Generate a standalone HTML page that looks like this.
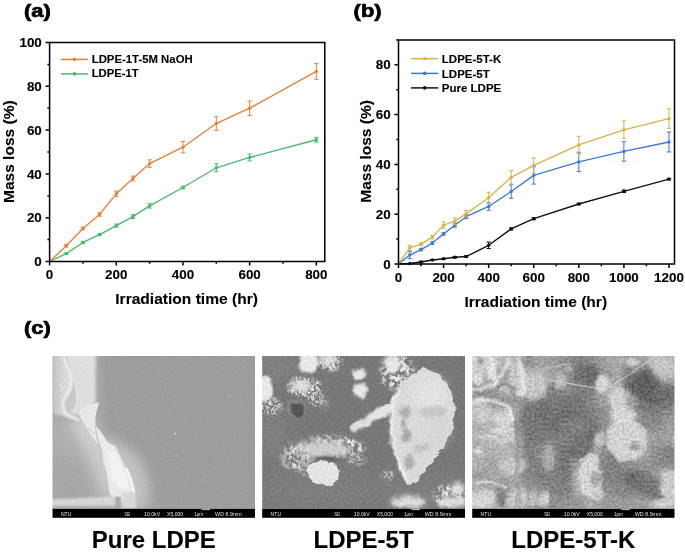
<!DOCTYPE html>
<html><head><meta charset="utf-8"><style>
html,body{margin:0;padding:0;background:#fff;width:685px;height:552px;overflow:hidden}
svg text{font-family:"Liberation Sans", sans-serif;font-weight:bold;fill:#000;stroke:#000;stroke-width:0.12}
</style></head><body>
<svg width="685" height="552" viewBox="0 0 685 552" style="position:absolute;left:0;top:0;filter:blur(0.35px)">
<rect width="685" height="552" fill="#fff"/>
<path d="M49.60,261.50 L66.27,253.62 L82.94,242.45 L99.61,234.56 L116.28,225.58 L132.95,216.61 L149.62,205.87 L182.96,187.48 L216.30,167.77 L249.64,157.48 L316.32,139.74" fill="none" stroke="#4DB871" stroke-width="1.35" stroke-linejoin="round"/>
<path d="M66.27,252.74V254.49M64.07,252.74H68.47M64.07,254.49H68.47" stroke="#4DB871" stroke-width="1" fill="none"/>
<circle cx="66.27" cy="253.62" r="1.7" fill="#4DB871"/>
<path d="M82.94,241.35V243.54M80.74,241.35H85.14M80.74,243.54H85.14" stroke="#4DB871" stroke-width="1" fill="none"/>
<circle cx="82.94" cy="242.45" r="1.7" fill="#4DB871"/>
<path d="M99.61,233.47V235.66M97.41,233.47H101.81M97.41,235.66H101.81" stroke="#4DB871" stroke-width="1" fill="none"/>
<circle cx="99.61" cy="234.56" r="1.7" fill="#4DB871"/>
<path d="M116.28,224.05V227.12M114.08,224.05H118.48M114.08,227.12H118.48" stroke="#4DB871" stroke-width="1" fill="none"/>
<circle cx="116.28" cy="225.58" r="1.7" fill="#4DB871"/>
<path d="M132.95,214.63V218.58M130.75,214.63H135.15M130.75,218.58H135.15" stroke="#4DB871" stroke-width="1" fill="none"/>
<circle cx="132.95" cy="216.61" r="1.7" fill="#4DB871"/>
<path d="M149.62,203.68V208.06M147.42,203.68H151.82M147.42,208.06H151.82" stroke="#4DB871" stroke-width="1" fill="none"/>
<circle cx="149.62" cy="205.87" r="1.7" fill="#4DB871"/>
<path d="M182.96,186.16V188.79M180.76,186.16H185.16M180.76,188.79H185.16" stroke="#4DB871" stroke-width="1" fill="none"/>
<circle cx="182.96" cy="187.48" r="1.7" fill="#4DB871"/>
<path d="M216.30,163.83V171.71M214.10,163.83H218.50M214.10,171.71H218.50" stroke="#4DB871" stroke-width="1" fill="none"/>
<circle cx="216.30" cy="167.77" r="1.7" fill="#4DB871"/>
<path d="M249.64,153.97V160.98M247.44,153.97H251.84M247.44,160.98H251.84" stroke="#4DB871" stroke-width="1" fill="none"/>
<circle cx="249.64" cy="157.48" r="1.7" fill="#4DB871"/>
<path d="M316.32,137.33V142.14M314.12,137.33H318.52M314.12,142.14H318.52" stroke="#4DB871" stroke-width="1" fill="none"/>
<circle cx="316.32" cy="139.74" r="1.7" fill="#4DB871"/>
<path d="M49.60,261.50 L66.27,245.73 L82.94,228.43 L99.61,214.41 L116.28,193.83 L132.95,178.50 L149.62,163.61 L182.96,147.18 L216.30,123.53 L249.64,108.20 L316.32,71.41" fill="none" stroke="#E9803A" stroke-width="1.35" stroke-linejoin="round"/>
<path d="M66.27,244.42V247.05M64.07,244.42H68.47M64.07,247.05H68.47" stroke="#E9803A" stroke-width="1" fill="none"/>
<circle cx="66.27" cy="245.73" r="1.7" fill="#E9803A"/>
<path d="M82.94,227.12V229.75M80.74,227.12H85.14M80.74,229.75H85.14" stroke="#E9803A" stroke-width="1" fill="none"/>
<circle cx="82.94" cy="228.43" r="1.7" fill="#E9803A"/>
<path d="M99.61,212.66V216.17M97.41,212.66H101.81M97.41,216.17H101.81" stroke="#E9803A" stroke-width="1" fill="none"/>
<circle cx="99.61" cy="214.41" r="1.7" fill="#E9803A"/>
<path d="M116.28,191.09V196.57M114.08,191.09H118.48M114.08,196.57H118.48" stroke="#E9803A" stroke-width="1" fill="none"/>
<circle cx="116.28" cy="193.83" r="1.7" fill="#E9803A"/>
<path d="M132.95,176.09V180.91M130.75,176.09H135.15M130.75,180.91H135.15" stroke="#E9803A" stroke-width="1" fill="none"/>
<circle cx="132.95" cy="178.50" r="1.7" fill="#E9803A"/>
<path d="M149.62,159.88V167.33M147.42,159.88H151.82M147.42,167.33H151.82" stroke="#E9803A" stroke-width="1" fill="none"/>
<circle cx="149.62" cy="163.61" r="1.7" fill="#E9803A"/>
<path d="M182.96,141.49V152.88M180.76,141.49H185.16M180.76,152.88H185.16" stroke="#E9803A" stroke-width="1" fill="none"/>
<circle cx="182.96" cy="147.18" r="1.7" fill="#E9803A"/>
<path d="M216.30,116.74V130.32M214.10,116.74H218.50M214.10,130.32H218.50" stroke="#E9803A" stroke-width="1" fill="none"/>
<circle cx="216.30" cy="123.53" r="1.7" fill="#E9803A"/>
<path d="M249.64,100.97V115.43M247.44,100.97H251.84M247.44,115.43H251.84" stroke="#E9803A" stroke-width="1" fill="none"/>
<circle cx="249.64" cy="108.20" r="1.7" fill="#E9803A"/>
<path d="M316.32,63.52V79.29M314.12,63.52H318.52M314.12,79.29H318.52" stroke="#E9803A" stroke-width="1" fill="none"/>
<circle cx="316.32" cy="71.41" r="1.7" fill="#E9803A"/>
<rect x="49.6" y="42.5" width="275.2" height="219.0" fill="none" stroke="#000" stroke-width="1.5"/>
<path d="M49.60,261.5v4 M82.94,261.5v2.2 M116.28,261.5v4 M149.62,261.5v2.2 M182.96,261.5v4 M216.30,261.5v2.2 M249.64,261.5v4 M282.98,261.5v2.2 M316.32,261.5v4 M49.6,261.50h-4 M49.6,239.60h-2.2 M49.6,217.70h-4 M49.6,195.80h-2.2 M49.6,173.90h-4 M49.6,152.00h-2.2 M49.6,130.10h-4 M49.6,108.20h-2.2 M49.6,86.30h-4 M49.6,64.40h-2.2 M49.6,42.50h-4" stroke="#000" stroke-width="1.5" fill="none"/>
<text x="49.60" y="278.7" font-size="13.4" text-anchor="middle">0</text>
<text x="116.28" y="278.7" font-size="13.4" text-anchor="middle">200</text>
<text x="182.96" y="278.7" font-size="13.4" text-anchor="middle">400</text>
<text x="249.64" y="278.7" font-size="13.4" text-anchor="middle">600</text>
<text x="316.32" y="278.7" font-size="13.4" text-anchor="middle">800</text>
<text x="41.8" y="266.10" font-size="13.4" text-anchor="end">0</text>
<text x="41.8" y="222.30" font-size="13.4" text-anchor="end">20</text>
<text x="41.8" y="178.50" font-size="13.4" text-anchor="end">40</text>
<text x="41.8" y="134.70" font-size="13.4" text-anchor="end">60</text>
<text x="41.8" y="90.90" font-size="13.4" text-anchor="end">80</text>
<text x="41.8" y="47.10" font-size="13.4" text-anchor="end">100</text>
<text x="115.3" y="303.5" font-size="15.5" textLength="142.6" lengthAdjust="spacingAndGlyphs">Irradiation time (hr)</text>
<text transform="translate(13.5,151.7) rotate(-90)" font-size="15" text-anchor="middle" textLength="102.6" lengthAdjust="spacingAndGlyphs">Mass loss (%)</text>
<path d="M61,59.4H88" stroke="#E9803A" stroke-width="1.5"/><circle cx="74.5" cy="59.4" r="1.8" fill="#E9803A"/>
<path d="M61,73.9H88" stroke="#4DB871" stroke-width="1.5"/><circle cx="74.5" cy="73.9" r="1.8" fill="#4DB871"/>
<text x="91.7" y="63.4" font-size="11.3" textLength="101" lengthAdjust="spacingAndGlyphs">LDPE-1T-5M NaOH</text>
<text x="91.7" y="77.4" font-size="11.3">LDPE-1T</text>
<text transform="translate(24.0,16.8) scale(1.23,1)" font-size="17.8" style="stroke:#000;stroke-width:0.7">(a)</text>
<path d="M398.50,264.00 L409.77,263.50 L421.04,262.01 L432.31,260.02 L443.58,258.77 L454.85,257.28 L466.12,256.53 L488.66,245.32 L511.20,228.89 L533.74,218.68 L578.82,203.99 L623.90,191.29 L668.98,179.09" fill="none" stroke="#111" stroke-width="1.35" stroke-linejoin="round"/>
<circle cx="409.77" cy="263.50" r="1.7" fill="#111"/>
<path d="M421.04,261.26V262.75M418.84,261.26H423.24M418.84,262.75H423.24" stroke="#111" stroke-width="1" fill="none"/>
<circle cx="421.04" cy="262.01" r="1.7" fill="#111"/>
<path d="M432.31,259.52V260.51M430.11,259.52H434.51M430.11,260.51H434.51" stroke="#111" stroke-width="1" fill="none"/>
<circle cx="432.31" cy="260.02" r="1.7" fill="#111"/>
<path d="M443.58,258.27V259.27M441.38,258.27H445.78M441.38,259.27H445.78" stroke="#111" stroke-width="1" fill="none"/>
<circle cx="443.58" cy="258.77" r="1.7" fill="#111"/>
<path d="M454.85,256.53V258.02M452.65,256.53H457.05M452.65,258.02H457.05" stroke="#111" stroke-width="1" fill="none"/>
<circle cx="454.85" cy="257.28" r="1.7" fill="#111"/>
<path d="M466.12,255.78V257.28M463.92,255.78H468.32M463.92,257.28H468.32" stroke="#111" stroke-width="1" fill="none"/>
<circle cx="466.12" cy="256.53" r="1.7" fill="#111"/>
<path d="M488.66,242.09V248.56M486.46,242.09H490.86M486.46,248.56H490.86" stroke="#111" stroke-width="1" fill="none"/>
<circle cx="488.66" cy="245.32" r="1.7" fill="#111"/>
<path d="M511.20,227.89V229.89M509.00,227.89H513.40M509.00,229.89H513.40" stroke="#111" stroke-width="1" fill="none"/>
<circle cx="511.20" cy="228.89" r="1.7" fill="#111"/>
<path d="M533.74,217.69V219.68M531.54,217.69H535.94M531.54,219.68H535.94" stroke="#111" stroke-width="1" fill="none"/>
<circle cx="533.74" cy="218.68" r="1.7" fill="#111"/>
<path d="M578.82,203.24V204.74M576.62,203.24H581.02M576.62,204.74H581.02" stroke="#111" stroke-width="1" fill="none"/>
<circle cx="578.82" cy="203.99" r="1.7" fill="#111"/>
<path d="M623.90,190.05V192.54M621.70,190.05H626.10M621.70,192.54H626.10" stroke="#111" stroke-width="1" fill="none"/>
<circle cx="623.90" cy="191.29" r="1.7" fill="#111"/>
<path d="M668.98,178.34V179.84M666.78,178.34H671.18M666.78,179.84H671.18" stroke="#111" stroke-width="1" fill="none"/>
<circle cx="668.98" cy="179.09" r="1.7" fill="#111"/>
<path d="M398.50,264.00 L409.77,255.04 L421.04,249.56 L432.31,243.08 L443.58,233.87 L454.85,225.16 L466.12,216.69 L488.66,206.48 L511.20,191.54 L533.74,175.36 L578.82,161.91 L623.90,151.45 L668.98,141.99" fill="none" stroke="#3F78DC" stroke-width="1.35" stroke-linejoin="round"/>
<path d="M409.77,251.30V258.77M407.57,251.30H411.97M407.57,258.77H411.97" stroke="#3F78DC" stroke-width="1" fill="none"/>
<circle cx="409.77" cy="255.04" r="1.7" fill="#3F78DC"/>
<path d="M421.04,248.31V250.80M418.84,248.31H423.24M418.84,250.80H423.24" stroke="#3F78DC" stroke-width="1" fill="none"/>
<circle cx="421.04" cy="249.56" r="1.7" fill="#3F78DC"/>
<path d="M432.31,241.84V244.33M430.11,241.84H434.51M430.11,244.33H434.51" stroke="#3F78DC" stroke-width="1" fill="none"/>
<circle cx="432.31" cy="243.08" r="1.7" fill="#3F78DC"/>
<path d="M443.58,232.63V235.12M441.38,232.63H445.78M441.38,235.12H445.78" stroke="#3F78DC" stroke-width="1" fill="none"/>
<circle cx="443.58" cy="233.87" r="1.7" fill="#3F78DC"/>
<path d="M454.85,223.16V227.15M452.65,223.16H457.05M452.65,227.15H457.05" stroke="#3F78DC" stroke-width="1" fill="none"/>
<circle cx="454.85" cy="225.16" r="1.7" fill="#3F78DC"/>
<path d="M466.12,214.70V218.68M463.92,214.70H468.32M463.92,218.68H468.32" stroke="#3F78DC" stroke-width="1" fill="none"/>
<circle cx="466.12" cy="216.69" r="1.7" fill="#3F78DC"/>
<path d="M488.66,202.75V210.22M486.46,202.75H490.86M486.46,210.22H490.86" stroke="#3F78DC" stroke-width="1" fill="none"/>
<circle cx="488.66" cy="206.48" r="1.7" fill="#3F78DC"/>
<path d="M511.20,184.82V198.26M509.00,184.82H513.40M509.00,198.26H513.40" stroke="#3F78DC" stroke-width="1" fill="none"/>
<circle cx="511.20" cy="191.54" r="1.7" fill="#3F78DC"/>
<path d="M533.74,166.64V184.07M531.54,166.64H535.94M531.54,184.07H535.94" stroke="#3F78DC" stroke-width="1" fill="none"/>
<circle cx="533.74" cy="175.36" r="1.7" fill="#3F78DC"/>
<path d="M578.82,152.20V171.62M576.62,152.20H581.02M576.62,171.62H581.02" stroke="#3F78DC" stroke-width="1" fill="none"/>
<circle cx="578.82" cy="161.91" r="1.7" fill="#3F78DC"/>
<path d="M623.90,141.74V161.16M621.70,141.74H626.10M621.70,161.16H626.10" stroke="#3F78DC" stroke-width="1" fill="none"/>
<circle cx="623.90" cy="151.45" r="1.7" fill="#3F78DC"/>
<path d="M668.98,132.03V151.95M666.78,132.03H671.18M666.78,151.95H671.18" stroke="#3F78DC" stroke-width="1" fill="none"/>
<circle cx="668.98" cy="141.99" r="1.7" fill="#3F78DC"/>
<path d="M398.50,264.00 L409.77,247.81 L421.04,244.08 L432.31,237.11 L443.58,225.16 L454.85,221.17 L466.12,213.70 L488.66,197.77 L511.20,177.35 L533.74,165.40 L578.82,144.98 L623.90,129.79 L668.98,118.58" fill="none" stroke="#D8B150" stroke-width="1.35" stroke-linejoin="round"/>
<path d="M409.77,245.32V250.31M407.57,245.32H411.97M407.57,250.31H411.97" stroke="#D8B150" stroke-width="1" fill="none"/>
<circle cx="409.77" cy="247.81" r="1.7" fill="#D8B150"/>
<path d="M421.04,242.84V245.32M418.84,242.84H423.24M418.84,245.32H423.24" stroke="#D8B150" stroke-width="1" fill="none"/>
<circle cx="421.04" cy="244.08" r="1.7" fill="#D8B150"/>
<path d="M432.31,235.37V238.85M430.11,235.37H434.51M430.11,238.85H434.51" stroke="#D8B150" stroke-width="1" fill="none"/>
<circle cx="432.31" cy="237.11" r="1.7" fill="#D8B150"/>
<path d="M443.58,221.92V228.39M441.38,221.92H445.78M441.38,228.39H445.78" stroke="#D8B150" stroke-width="1" fill="none"/>
<circle cx="443.58" cy="225.16" r="1.7" fill="#D8B150"/>
<path d="M454.85,217.94V224.41M452.65,217.94H457.05M452.65,224.41H457.05" stroke="#D8B150" stroke-width="1" fill="none"/>
<circle cx="454.85" cy="221.17" r="1.7" fill="#D8B150"/>
<path d="M466.12,210.47V216.94M463.92,210.47H468.32M463.92,216.94H468.32" stroke="#D8B150" stroke-width="1" fill="none"/>
<circle cx="466.12" cy="213.70" r="1.7" fill="#D8B150"/>
<path d="M488.66,192.29V203.24M486.46,192.29H490.86M486.46,203.24H490.86" stroke="#D8B150" stroke-width="1" fill="none"/>
<circle cx="488.66" cy="197.77" r="1.7" fill="#D8B150"/>
<path d="M511.20,170.62V184.07M509.00,170.62H513.40M509.00,184.07H513.40" stroke="#D8B150" stroke-width="1" fill="none"/>
<circle cx="511.20" cy="177.35" r="1.7" fill="#D8B150"/>
<path d="M533.74,157.93V172.87M531.54,157.93H535.94M531.54,172.87H535.94" stroke="#D8B150" stroke-width="1" fill="none"/>
<circle cx="533.74" cy="165.40" r="1.7" fill="#D8B150"/>
<path d="M578.82,136.26V153.69M576.62,136.26H581.02M576.62,153.69H581.02" stroke="#D8B150" stroke-width="1" fill="none"/>
<circle cx="578.82" cy="144.98" r="1.7" fill="#D8B150"/>
<path d="M623.90,120.82V138.75M621.70,120.82H626.10M621.70,138.75H626.10" stroke="#D8B150" stroke-width="1" fill="none"/>
<circle cx="623.90" cy="129.79" r="1.7" fill="#D8B150"/>
<path d="M668.98,108.87V128.29M666.78,108.87H671.18M666.78,128.29H671.18" stroke="#D8B150" stroke-width="1" fill="none"/>
<circle cx="668.98" cy="118.58" r="1.7" fill="#D8B150"/>
<rect x="398.5" y="40.0" width="276.0" height="224.0" fill="none" stroke="#000" stroke-width="1.5"/>
<path d="M398.50,264.0v4 M421.04,264.0v2.2 M443.58,264.0v4 M466.12,264.0v2.2 M488.66,264.0v4 M511.20,264.0v2.2 M533.74,264.0v4 M556.28,264.0v2.2 M578.82,264.0v4 M601.36,264.0v2.2 M623.90,264.0v4 M646.44,264.0v2.2 M668.98,264.0v4 M398.5,264.00h-4 M398.5,239.10h-2.2 M398.5,214.20h-4 M398.5,189.30h-2.2 M398.5,164.40h-4 M398.5,139.50h-2.2 M398.5,114.60h-4 M398.5,89.70h-2.2 M398.5,64.80h-4 M398.5,39.90h-2.2" stroke="#000" stroke-width="1.5" fill="none"/>
<text x="398.50" y="281.6" font-size="13.4" text-anchor="middle">0</text>
<text x="443.58" y="281.6" font-size="13.4" text-anchor="middle">200</text>
<text x="488.66" y="281.6" font-size="13.4" text-anchor="middle">400</text>
<text x="533.74" y="281.6" font-size="13.4" text-anchor="middle">600</text>
<text x="578.82" y="281.6" font-size="13.4" text-anchor="middle">800</text>
<text x="623.90" y="281.6" font-size="13.4" text-anchor="middle">1000</text>
<text x="668.98" y="281.6" font-size="13.4" text-anchor="middle">1200</text>
<text x="390.6" y="268.60" font-size="13.4" text-anchor="end">0</text>
<text x="390.6" y="218.80" font-size="13.4" text-anchor="end">20</text>
<text x="390.6" y="169.00" font-size="13.4" text-anchor="end">40</text>
<text x="390.6" y="119.20" font-size="13.4" text-anchor="end">60</text>
<text x="390.6" y="69.40" font-size="13.4" text-anchor="end">80</text>
<text x="464.4" y="306.8" font-size="15.5" textLength="142.7" lengthAdjust="spacingAndGlyphs">Irradiation time (hr)</text>
<text transform="translate(370.9,151.4) rotate(-90)" font-size="15" text-anchor="middle" textLength="102.8" lengthAdjust="spacingAndGlyphs">Mass loss (%)</text>
<path d="M411.1,58.7H438.3" stroke="#D8B150" stroke-width="1.5"/><circle cx="424.7" cy="58.7" r="1.6" fill="#D8B150"/>
<path d="M411.1,73.4H438.3" stroke="#3F78DC" stroke-width="1.5"/><circle cx="424.7" cy="73.4" r="1.8" fill="#3F78DC"/>
<path d="M411.1,87.9H438.3" stroke="#111" stroke-width="1.5"/><circle cx="424.7" cy="87.9" r="1.8" fill="#111"/>
<text x="441.8" y="62.9" font-size="11.5">LDPE-5T-K</text>
<text x="441.8" y="77.5" font-size="11.5">LDPE-5T</text>
<text x="441.8" y="91.6" font-size="11.5">Pure LDPE</text>
<text transform="translate(353.6,16.8) scale(1.23,1)" font-size="17.8" style="stroke:#000;stroke-width:0.7">(b)</text>
<text transform="translate(24.0,334.3) scale(1.23,1)" font-size="17.8" style="stroke:#000;stroke-width:0.7">(c)</text>
<defs>
<filter id="b05" x="-50%" y="-50%" width="200%" height="200%"><feGaussianBlur stdDeviation="0.5"/></filter>
<filter id="b1" x="-50%" y="-50%" width="200%" height="200%"><feGaussianBlur stdDeviation="1"/></filter>
<filter id="b15" x="-50%" y="-50%" width="200%" height="200%"><feGaussianBlur stdDeviation="1.5"/></filter>
<filter id="b2" x="-50%" y="-50%" width="200%" height="200%"><feGaussianBlur stdDeviation="2"/></filter>
<filter id="b3" x="-50%" y="-50%" width="200%" height="200%"><feGaussianBlur stdDeviation="3"/></filter>
<filter id="b4" x="-50%" y="-50%" width="200%" height="200%"><feGaussianBlur stdDeviation="4"/></filter>
<filter id="b6" x="-50%" y="-50%" width="200%" height="200%"><feGaussianBlur stdDeviation="6"/></filter>
<filter id="b8" x="-50%" y="-50%" width="200%" height="200%"><feGaussianBlur stdDeviation="8"/></filter>
<filter id="b12" x="-50%" y="-50%" width="200%" height="200%"><feGaussianBlur stdDeviation="12"/></filter>
<clipPath id="c0"><rect x="0" y="0" width="202.5" height="152.8"/></clipPath>
<clipPath id="c1"><rect x="0" y="0" width="202.8" height="152.8"/></clipPath>
<clipPath id="c2"><rect x="0" y="0" width="202.3" height="152.8"/></clipPath>
<filter id="fluff" x="-20%" y="-20%" width="140%" height="140%" color-interpolation-filters="sRGB"><feTurbulence type="fractalNoise" baseFrequency="0.4" numOctaves="3" seed="3" result="t"/><feColorMatrix in="t" type="matrix" values="0 0 0 0 0  0 0 0 0 0  0 0 0 0 0  0 0 0 4 -1.6" result="ta"/><feGaussianBlur in="SourceGraphic" stdDeviation="1.5" result="sb"/><feComposite in="sb" in2="ta" operator="in" result="c"/><feGaussianBlur in="c" stdDeviation="0.4"/></filter>
<filter id="fluff2" x="-20%" y="-20%" width="140%" height="140%" color-interpolation-filters="sRGB"><feTurbulence type="fractalNoise" baseFrequency="0.25" numOctaves="3" seed="9" result="t"/><feColorMatrix in="t" type="matrix" values="0 0 0 0 0  0 0 0 0 0  0 0 0 0 0  0 0 0 3.5 -1.3" result="ta"/><feGaussianBlur in="SourceGraphic" stdDeviation="2" result="sb"/><feComposite in="sb" in2="ta" operator="in" result="c"/><feGaussianBlur in="c" stdDeviation="0.4"/></filter>
<filter id="tex1" filterUnits="userSpaceOnUse" x="-10" y="-10" width="225" height="175" color-interpolation-filters="sRGB"><feOffset in="SourceGraphic" dx="0" dy="0" result="src"/><feTurbulence type="fractalNoise" baseFrequency="0.5" numOctaves="2" seed="1" result="n"/><feColorMatrix in="n" type="matrix" values="1 0 0 0 0  1 0 0 0 0  1 0 0 0 0  0 0 0 0 1" result="ng"/><feComposite in="src" in2="ng" operator="arithmetic" k1="0" k2="1" k3="0.06" k4="-0.03" result="o"/><feComposite in="o" in2="src" operator="in" result="o2"/><feGaussianBlur in="o2" stdDeviation="0.5"/></filter>
<filter id="tex2" filterUnits="userSpaceOnUse" x="-10" y="-10" width="225" height="175" color-interpolation-filters="sRGB"><feTurbulence type="fractalNoise" baseFrequency="0.12" numOctaves="2" seed="12" result="dn"/><feDisplacementMap in="SourceGraphic" in2="dn" scale="6" xChannelSelector="R" yChannelSelector="G" result="src"/><feTurbulence type="fractalNoise" baseFrequency="0.45" numOctaves="2" seed="7" result="n"/><feColorMatrix in="n" type="matrix" values="1 0 0 0 0  1 0 0 0 0  1 0 0 0 0  0 0 0 0 1" result="ng"/><feComposite in="src" in2="ng" operator="arithmetic" k1="0" k2="1" k3="0.14" k4="-0.07" result="o"/><feComposite in="o" in2="src" operator="in" result="o2"/><feGaussianBlur in="o2" stdDeviation="0.5"/></filter>
<filter id="tex3" filterUnits="userSpaceOnUse" x="-10" y="-10" width="225" height="175" color-interpolation-filters="sRGB"><feTurbulence type="fractalNoise" baseFrequency="0.07" numOctaves="2" seed="16" result="dn"/><feDisplacementMap in="SourceGraphic" in2="dn" scale="7" xChannelSelector="R" yChannelSelector="G" result="src"/><feTurbulence type="fractalNoise" baseFrequency="0.4" numOctaves="3" seed="11" result="n"/><feColorMatrix in="n" type="matrix" values="1 0 0 0 0  1 0 0 0 0  1 0 0 0 0  0 0 0 0 1" result="ng"/><feComposite in="src" in2="ng" operator="arithmetic" k1="0" k2="1" k3="0.3" k4="-0.15" result="o"/><feComposite in="o" in2="src" operator="in" result="o2"/><feGaussianBlur in="o2" stdDeviation="0.5"/></filter>
</defs>
<g transform="translate(52.5,356.0)"><g clip-path="url(#c0)"><g filter="url(#tex1)">
<defs><linearGradient id="s1g1" x1="0" y1="0" x2="1" y2="0"><stop offset="0" stop-color="#c4c4c4"/><stop offset="0.3" stop-color="#dadada"/><stop offset="1" stop-color="#e0e0e0"/></linearGradient></defs>
<rect x="-9" y="-9" width="220.5" height="170.8" fill="#9d9d9d"/>
<polygon points="41.0,0.0 48.0,0.0 52.0,40.0 54.0,70.0 44.0,70.0" fill="#a6a6a6" filter="url(#b3)"/>
<polygon points="50.0,78.0 66.0,86.0 86.0,100.0 96.0,125.0 98.0,153.0 62.0,153.0 50.0,110.0" fill="#c2c2c2" filter="url(#b6)"/>
<polygon points="-5.0,56.0 14.0,62.0 30.0,68.0 42.0,74.0 52.0,110.0 62.0,146.0 62.0,160.0 -5.0,160.0" fill="#b0b0b0" filter="url(#b6)"/>
<polygon points="0.0,95.0 22.0,105.0 38.0,130.0 44.0,153.0 0.0,153.0" fill="#a6a6a6" filter="url(#b8)"/>
<polygon points="14.0,56.0 40.0,62.0 56.0,100.0 62.0,140.0 52.0,140.0 38.0,104.0 22.0,76.0" fill="#cecece" filter="url(#b6)"/>
<polygon points="0,-4 43,-4 43.5,46 32,54 22,62 10,60 0,58" fill="url(#s1g1)" filter="url(#b15)"/>
<polygon points="16.0,0.0 42.0,0.0 40.0,12.0 22.0,10.0" fill="#e0e0e0" filter="url(#b3)"/>
<path d="M11.3,0 C13,6 15,12 17.5,15 C19,19 19.5,28 17.5,34 C15,38 11,43 10.5,48 C10.5,54 13,58 17,60 C21,62 24,63 27,64 L30,60 C25,58 20,57 18.4,56 C22,53 24.5,48 24.4,44 C24.3,38 23.4,30 21,22 C19,14 17,8 16,0 Z" fill="#c8c8c8" filter="url(#b05)"/>
<path d="M11.3,0 C13,6 15,12 17.5,15 C19,19 19.5,28 17.5,34 C15,38 11,43 10.5,48 C10.5,54 13,58 17,60 C21,62 24,63 27,64" fill="none" stroke="#f4f4f4" stroke-width="2.4" filter="url(#b1)"/>
<path d="M16,0 C17,8 19,14 21,22 C23.4,30 24.3,38 24.4,44 C24.5,48 22,53 18.4,56" fill="none" stroke="#e4e4e4" stroke-width="1.2" filter="url(#b05)"/>
<path d="M8.5,28 C9,31 9.5,33 10.5,35" fill="none" stroke="#e6e6e6" stroke-width="1.4" filter="url(#b05)"/>
<polygon points="43.0,70.0 47.0,74.0 55.6,86.7 62.9,90.3 67.4,99.4 71.9,109.4 76.4,115.7 80.0,124.8 82.8,134.0 82.0,146.0 70.0,146.0 58.0,140.0 56.5,134.0 55.6,124.8 53.8,115.7 51.1,106.6 49.3,93.0 46.0,84.0" fill="#eaeaea" filter="url(#b05)"/>
<polygon points="56.0,94.0 63.0,98.0 69.0,112.0 76.0,124.0 74.0,134.0 64.0,130.0 58.0,114.0" fill="#f3f3f3" filter="url(#b1)"/>
<path d="M74,112 C80,124 82,134 81,146" fill="none" stroke="#f4f4f4" stroke-width="2" filter="url(#b05)"/>
<path d="M26,57 C30,50 38,47 47,46.5 C45,52 43,58 42.8,66 C42.6,72 43.5,80 45.5,89 C40,82 34,72 30,66 Z" fill="#e7e7e7" filter="url(#b05)"/>
<path d="M26,60 C30,68 35,74 43,78" fill="none" stroke="#bcbcbc" stroke-width="0.8" filter="url(#b05)"/>
<polygon points="-3.0,143.5 30.0,142.0 50.0,141.0 63.0,139.5 63.0,149.5 30.0,150.0 -3.0,150.0" fill="#d6d6d6" filter="url(#b1)"/>
<polygon points="63.0,140.7 68.7,140.7 68.7,153.0 63.0,153.0" fill="#acacac" filter="url(#b05)"/>
<polygon points="69.0,136.0 82.0,136.0 84.0,153.0 69.0,153.0" fill="#d7d7d7" filter="url(#b1)"/>
<ellipse cx="122.5" cy="77.6" rx="0.9" ry="0.9" fill="#e0e0e0"/>
<ellipse cx="124.5" cy="99.7" rx="0.7" ry="0.7" fill="#d0d0d0"/>
<ellipse cx="177.2" cy="39.6" rx="0.8" ry="0.8" fill="#c8c8c8"/>
</g>

</g></g>
<rect x="52.5" y="508.8" width="202.5" height="8.999999999999943" fill="#000"/>
<text x="60.9" y="515.9" font-size="6.2" textLength="10.5" lengthAdjust="spacingAndGlyphs" style="fill:#e0e0e0;font-weight:normal;stroke:none">NTU</text>
<text x="124.5" y="515.9" font-size="6.2" textLength="5.8" lengthAdjust="spacingAndGlyphs" style="fill:#e0e0e0;font-weight:normal;stroke:none">SEI</text>
<text x="144.1" y="515.9" font-size="6.2" textLength="16" lengthAdjust="spacingAndGlyphs" style="fill:#e0e0e0;font-weight:normal;stroke:none">10.0kV</text>
<text x="167.1" y="515.9" font-size="6.2" textLength="16" lengthAdjust="spacingAndGlyphs" style="fill:#e0e0e0;font-weight:normal;stroke:none">X5,000</text>
<text x="194.2" y="515.9" font-size="6.2" textLength="9" lengthAdjust="spacingAndGlyphs" style="fill:#e0e0e0;font-weight:normal;stroke:none">1μm</text>
<text x="215.1" y="515.9" font-size="6.2" textLength="26.7" lengthAdjust="spacingAndGlyphs" style="fill:#e0e0e0;font-weight:normal;stroke:none">WD 8.9mm</text>
<rect x="201.7" y="509.2" width="8.5" height="0.9" fill="#ddd"/>
<g transform="translate(262.2,356.0)"><g clip-path="url(#c1)"><g filter="url(#tex2)">
<rect x="-9" y="-9" width="220.8" height="170.8" fill="#787878"/>
<ellipse cx="14" cy="10" rx="26" ry="14" fill="#828282" filter="url(#b8)"/>
<ellipse cx="10" cy="80" rx="14" ry="20" fill="#828282" filter="url(#b8)"/>
<ellipse cx="60" cy="135" rx="60" ry="20" fill="#7f7f7f" filter="url(#b12)"/>
<ellipse cx="160" cy="140" rx="50" ry="20" fill="#7f7f7f" filter="url(#b12)"/>
<ellipse cx="35" cy="53" rx="9.5" ry="9" fill="#969696" filter="url(#b1)"/>
<ellipse cx="35.5" cy="53.5" rx="7.5" ry="7.5" fill="#545454" filter="url(#b1)"/>
<ellipse cx="46.5" cy="6" rx="10.5" ry="11.5" fill="#e8e8e8" filter="url(#b1)"/>
<ellipse cx="68" cy="6" rx="12" ry="9" fill="#e1e1e1" filter="url(#fluff)"/>
<ellipse cx="66" cy="4" rx="8" ry="6" fill="#dedede" filter="url(#b2)"/>
<ellipse cx="3" cy="33" rx="8" ry="13" fill="#e8e8e8" filter="url(#b1)"/>
<ellipse cx="8" cy="50" rx="12" ry="9" fill="#dcdcdc" filter="url(#fluff)"/>
<ellipse cx="42" cy="31" rx="17" ry="10" fill="#e8e8e8" filter="url(#fluff)"/>
<ellipse cx="38" cy="30" rx="10" ry="6" fill="#dedede" filter="url(#b2)"/>
<ellipse cx="55" cy="43" rx="8" ry="8" fill="#dcdcdc" filter="url(#fluff)"/>
<ellipse cx="62" cy="47" rx="4" ry="6" fill="#b4b4b4" filter="url(#fluff2)"/>
<ellipse cx="97" cy="18" rx="7" ry="5.5" fill="#e6e6e6" filter="url(#b1)"/>
<ellipse cx="98" cy="35" rx="7.5" ry="7.5" fill="#e8e8e8" filter="url(#b1)"/>
<path d="M92,72 L122,56" stroke="#e0e0e0" stroke-width="8" stroke-linecap="round" filter="url(#b1)"/>
<path d="M112,60 L126,52" stroke="#e4e4e4" stroke-width="10" stroke-linecap="round" filter="url(#b1)"/>
<ellipse cx="135" cy="16" rx="17" ry="17" fill="#ebebeb" filter="url(#fluff2)"/>
<ellipse cx="130" cy="8" rx="9" ry="8" fill="#e8e8e8" filter="url(#b2)"/>
<polygon points="160.9,11.6 178.7,19.2 188.9,34.5 192.7,54.8 190.1,75.1 181.3,92.8 168.6,108.0 155.9,123.3 148.3,129.6 141.9,123.3 135.6,105.5 130.5,85.2 128.0,67.5 129.2,47.1 135.6,31.9 148.3,19.2" fill="#dadada" filter="url(#b05)"/>
<ellipse cx="168" cy="40" rx="16" ry="20" fill="#e2e2e2" filter="url(#b4)"/>
<ellipse cx="176" cy="75" rx="10" ry="14" fill="#d6d6d6" filter="url(#b4)"/>
<ellipse cx="143" cy="56" rx="5" ry="6" fill="#acacac" filter="url(#b15)"/>
<ellipse cx="144" cy="80" rx="5" ry="7" fill="#a5a5a5" filter="url(#b15)"/>
<ellipse cx="147" cy="106" rx="5" ry="8" fill="#afafaf" filter="url(#b15)"/>
<ellipse cx="141" cy="68" rx="3" ry="5" fill="#afafaf" filter="url(#b1)"/>
<ellipse cx="170" cy="56" rx="14" ry="5" fill="#c4c4c4" filter="url(#b2)"/>
<ellipse cx="160" cy="92" rx="8" ry="4" fill="#bebebe" filter="url(#b2)"/>
<path d="M135.6,31.9 C130,45 128,60 129,75 C131,95 137,112 146,126" fill="none" stroke="#f0f0f0" stroke-width="3" filter="url(#b1)"/>
<ellipse cx="70" cy="91" rx="32" ry="11" fill="#eeeeee" filter="url(#fluff2)"/>
<ellipse cx="60" cy="93" rx="26" ry="8" fill="#cdcdcd" filter="url(#b3)"/>
<ellipse cx="34" cy="101" rx="15" ry="13" fill="#e1e1e1" filter="url(#fluff2)"/>
<ellipse cx="95" cy="103" rx="9" ry="6" fill="#bebebe" filter="url(#fluff)"/>
<ellipse cx="45" cy="112" rx="10" ry="10" fill="#b2b2b2" filter="url(#fluff)"/>
<ellipse cx="66" cy="103" rx="13" ry="2.5" fill="#646464" filter="url(#b1)"/>
<path d="M45,112 C48,106 58,105 68,106 C76,108 78,116 76,122 C73,128 66,130 58,129 C50,127 45,121 45,112 Z" fill="#e4e4e4" filter="url(#b05)"/>
<ellipse cx="126" cy="119" rx="7" ry="6" fill="#bebebe" filter="url(#fluff)"/>
<ellipse cx="146" cy="146" rx="18" ry="6" fill="#dedede" filter="url(#b2)"/>
<ellipse cx="188" cy="140" rx="17" ry="12" fill="#e8e8e8" filter="url(#fluff2)"/>
<ellipse cx="195" cy="132" rx="7" ry="6" fill="#e2e2e2" filter="url(#b2)"/>
<ellipse cx="190" cy="146" rx="14" ry="5" fill="#dedede" filter="url(#b2)"/>
</g>

</g></g>
<rect x="262.2" y="508.8" width="202.8" height="8.999999999999943" fill="#000"/>
<text x="270.6" y="515.9" font-size="6.2" textLength="10.5" lengthAdjust="spacingAndGlyphs" style="fill:#e0e0e0;font-weight:normal;stroke:none">NTU</text>
<text x="334.2" y="515.9" font-size="6.2" textLength="5.8" lengthAdjust="spacingAndGlyphs" style="fill:#e0e0e0;font-weight:normal;stroke:none">SEI</text>
<text x="353.8" y="515.9" font-size="6.2" textLength="16" lengthAdjust="spacingAndGlyphs" style="fill:#e0e0e0;font-weight:normal;stroke:none">10.0kV</text>
<text x="376.8" y="515.9" font-size="6.2" textLength="16" lengthAdjust="spacingAndGlyphs" style="fill:#e0e0e0;font-weight:normal;stroke:none">X5,000</text>
<text x="403.9" y="515.9" font-size="6.2" textLength="9" lengthAdjust="spacingAndGlyphs" style="fill:#e0e0e0;font-weight:normal;stroke:none">1μm</text>
<text x="424.8" y="515.9" font-size="6.2" textLength="26.7" lengthAdjust="spacingAndGlyphs" style="fill:#e0e0e0;font-weight:normal;stroke:none">WD 8.9mm</text>
<rect x="411.4" y="509.2" width="8.5" height="0.9" fill="#ddd"/>
<g transform="translate(472.2,356.0)"><g clip-path="url(#c2)"><g filter="url(#tex3)">
<rect x="-9" y="-9" width="220.3" height="170.8" fill="#9b9b9b"/>
<g filter="url(#b3)">
<rect x="-9.0" y="-9.0" width="21.9" height="22.0" fill="#d2d2d2"/>
<rect x="12.6" y="-9.0" width="12.9" height="22.0" fill="#d9d9d9"/>
<rect x="25.3" y="-9.0" width="12.9" height="22.0" fill="#b7b7b7"/>
<rect x="37.9" y="-9.0" width="12.9" height="22.0" fill="#b1b1b1"/>
<rect x="50.6" y="-9.0" width="12.9" height="22.0" fill="#8f8f8f"/>
<rect x="63.2" y="-9.0" width="12.9" height="22.0" fill="#a3a3a3"/>
<rect x="75.9" y="-9.0" width="12.9" height="22.0" fill="#9c9c9c"/>
<rect x="88.5" y="-9.0" width="12.9" height="22.0" fill="#8f8f8f"/>
<rect x="101.2" y="-9.0" width="12.9" height="22.0" fill="#818181"/>
<rect x="113.8" y="-9.0" width="12.9" height="22.0" fill="#8f8f8f"/>
<rect x="126.4" y="-9.0" width="12.9" height="22.0" fill="#a3a3a3"/>
<rect x="139.1" y="-9.0" width="12.9" height="22.0" fill="#aaaaaa"/>
<rect x="151.7" y="-9.0" width="12.9" height="22.0" fill="#9c9c9c"/>
<rect x="164.4" y="-9.0" width="12.9" height="22.0" fill="#a3a3a3"/>
<rect x="177.0" y="-9.0" width="12.9" height="22.0" fill="#bebebe"/>
<rect x="189.7" y="-9.0" width="21.9" height="22.0" fill="#b7b7b7"/>
<rect x="-9.0" y="12.7" width="21.9" height="13.0" fill="#cccccc"/>
<rect x="12.6" y="12.7" width="12.9" height="13.0" fill="#b1b1b1"/>
<rect x="25.3" y="12.7" width="12.9" height="13.0" fill="#9c9c9c"/>
<rect x="37.9" y="12.7" width="12.9" height="13.0" fill="#bebebe"/>
<rect x="50.6" y="12.7" width="12.9" height="13.0" fill="#bebebe"/>
<rect x="63.2" y="12.7" width="12.9" height="13.0" fill="#b1b1b1"/>
<rect x="75.9" y="12.7" width="12.9" height="13.0" fill="#a3a3a3"/>
<rect x="88.5" y="12.7" width="12.9" height="13.0" fill="#8f8f8f"/>
<rect x="101.2" y="12.7" width="12.9" height="13.0" fill="#747474"/>
<rect x="113.8" y="12.7" width="12.9" height="13.0" fill="#666666"/>
<rect x="126.4" y="12.7" width="12.9" height="13.0" fill="#8f8f8f"/>
<rect x="139.1" y="12.7" width="12.9" height="13.0" fill="#aaaaaa"/>
<rect x="151.7" y="12.7" width="12.9" height="13.0" fill="#747474"/>
<rect x="164.4" y="12.7" width="12.9" height="13.0" fill="#595959"/>
<rect x="177.0" y="12.7" width="12.9" height="13.0" fill="#747474"/>
<rect x="189.7" y="12.7" width="21.9" height="13.0" fill="#b1b1b1"/>
<rect x="-9.0" y="25.5" width="21.9" height="13.0" fill="#9c9c9c"/>
<rect x="12.6" y="25.5" width="12.9" height="13.0" fill="#a3a3a3"/>
<rect x="25.3" y="25.5" width="12.9" height="13.0" fill="#bebebe"/>
<rect x="37.9" y="25.5" width="12.9" height="13.0" fill="#c5c5c5"/>
<rect x="50.6" y="25.5" width="12.9" height="13.0" fill="#bebebe"/>
<rect x="63.2" y="25.5" width="12.9" height="13.0" fill="#8f8f8f"/>
<rect x="75.9" y="25.5" width="12.9" height="13.0" fill="#818181"/>
<rect x="88.5" y="25.5" width="12.9" height="13.0" fill="#8f8f8f"/>
<rect x="101.2" y="25.5" width="12.9" height="13.0" fill="#818181"/>
<rect x="113.8" y="25.5" width="12.9" height="13.0" fill="#7b7b7b"/>
<rect x="126.4" y="25.5" width="12.9" height="13.0" fill="#b1b1b1"/>
<rect x="139.1" y="25.5" width="12.9" height="13.0" fill="#b1b1b1"/>
<rect x="151.7" y="25.5" width="12.9" height="13.0" fill="#606060"/>
<rect x="164.4" y="25.5" width="12.9" height="13.0" fill="#525252"/>
<rect x="177.0" y="25.5" width="12.9" height="13.0" fill="#666666"/>
<rect x="189.7" y="25.5" width="21.9" height="13.0" fill="#818181"/>
<rect x="-9.0" y="38.2" width="21.9" height="13.0" fill="#c5c5c5"/>
<rect x="12.6" y="38.2" width="12.9" height="13.0" fill="#b1b1b1"/>
<rect x="25.3" y="38.2" width="12.9" height="13.0" fill="#969696"/>
<rect x="37.9" y="38.2" width="12.9" height="13.0" fill="#9c9c9c"/>
<rect x="50.6" y="38.2" width="12.9" height="13.0" fill="#818181"/>
<rect x="63.2" y="38.2" width="12.9" height="13.0" fill="#747474"/>
<rect x="75.9" y="38.2" width="12.9" height="13.0" fill="#7b7b7b"/>
<rect x="88.5" y="38.2" width="12.9" height="13.0" fill="#747474"/>
<rect x="101.2" y="38.2" width="12.9" height="13.0" fill="#747474"/>
<rect x="113.8" y="38.2" width="12.9" height="13.0" fill="#888888"/>
<rect x="126.4" y="38.2" width="12.9" height="13.0" fill="#a3a3a3"/>
<rect x="139.1" y="38.2" width="12.9" height="13.0" fill="#bebebe"/>
<rect x="151.7" y="38.2" width="12.9" height="13.0" fill="#a3a3a3"/>
<rect x="164.4" y="38.2" width="12.9" height="13.0" fill="#747474"/>
<rect x="177.0" y="38.2" width="12.9" height="13.0" fill="#595959"/>
<rect x="189.7" y="38.2" width="21.9" height="13.0" fill="#747474"/>
<rect x="-9.0" y="50.9" width="21.9" height="13.0" fill="#bebebe"/>
<rect x="12.6" y="50.9" width="12.9" height="13.0" fill="#c5c5c5"/>
<rect x="25.3" y="50.9" width="12.9" height="13.0" fill="#b1b1b1"/>
<rect x="37.9" y="50.9" width="12.9" height="13.0" fill="#aaaaaa"/>
<rect x="50.6" y="50.9" width="12.9" height="13.0" fill="#7b7b7b"/>
<rect x="63.2" y="50.9" width="12.9" height="13.0" fill="#6d6d6d"/>
<rect x="75.9" y="50.9" width="12.9" height="13.0" fill="#747474"/>
<rect x="88.5" y="50.9" width="12.9" height="13.0" fill="#6d6d6d"/>
<rect x="101.2" y="50.9" width="12.9" height="13.0" fill="#747474"/>
<rect x="113.8" y="50.9" width="12.9" height="13.0" fill="#818181"/>
<rect x="126.4" y="50.9" width="12.9" height="13.0" fill="#8f8f8f"/>
<rect x="139.1" y="50.9" width="12.9" height="13.0" fill="#c5c5c5"/>
<rect x="151.7" y="50.9" width="12.9" height="13.0" fill="#b7b7b7"/>
<rect x="164.4" y="50.9" width="12.9" height="13.0" fill="#8f8f8f"/>
<rect x="177.0" y="50.9" width="12.9" height="13.0" fill="#818181"/>
<rect x="189.7" y="50.9" width="21.9" height="13.0" fill="#8f8f8f"/>
<rect x="-9.0" y="63.7" width="21.9" height="13.0" fill="#b1b1b1"/>
<rect x="12.6" y="63.7" width="12.9" height="13.0" fill="#b7b7b7"/>
<rect x="25.3" y="63.7" width="12.9" height="13.0" fill="#aaaaaa"/>
<rect x="37.9" y="63.7" width="12.9" height="13.0" fill="#969696"/>
<rect x="50.6" y="63.7" width="12.9" height="13.0" fill="#747474"/>
<rect x="63.2" y="63.7" width="12.9" height="13.0" fill="#747474"/>
<rect x="75.9" y="63.7" width="12.9" height="13.0" fill="#6d6d6d"/>
<rect x="88.5" y="63.7" width="12.9" height="13.0" fill="#7b7b7b"/>
<rect x="101.2" y="63.7" width="12.9" height="13.0" fill="#818181"/>
<rect x="113.8" y="63.7" width="12.9" height="13.0" fill="#747474"/>
<rect x="126.4" y="63.7" width="12.9" height="13.0" fill="#8f8f8f"/>
<rect x="139.1" y="63.7" width="12.9" height="13.0" fill="#aaaaaa"/>
<rect x="151.7" y="63.7" width="12.9" height="13.0" fill="#8f8f8f"/>
<rect x="164.4" y="63.7" width="12.9" height="13.0" fill="#888888"/>
<rect x="177.0" y="63.7" width="12.9" height="13.0" fill="#8f8f8f"/>
<rect x="189.7" y="63.7" width="21.9" height="13.0" fill="#9c9c9c"/>
<rect x="-9.0" y="76.4" width="21.9" height="13.0" fill="#b1b1b1"/>
<rect x="12.6" y="76.4" width="12.9" height="13.0" fill="#bebebe"/>
<rect x="25.3" y="76.4" width="12.9" height="13.0" fill="#b1b1b1"/>
<rect x="37.9" y="76.4" width="12.9" height="13.0" fill="#a3a3a3"/>
<rect x="50.6" y="76.4" width="12.9" height="13.0" fill="#747474"/>
<rect x="63.2" y="76.4" width="12.9" height="13.0" fill="#7b7b7b"/>
<rect x="75.9" y="76.4" width="12.9" height="13.0" fill="#818181"/>
<rect x="88.5" y="76.4" width="12.9" height="13.0" fill="#818181"/>
<rect x="101.2" y="76.4" width="12.9" height="13.0" fill="#747474"/>
<rect x="113.8" y="76.4" width="12.9" height="13.0" fill="#666666"/>
<rect x="126.4" y="76.4" width="12.9" height="13.0" fill="#8f8f8f"/>
<rect x="139.1" y="76.4" width="12.9" height="13.0" fill="#bebebe"/>
<rect x="151.7" y="76.4" width="12.9" height="13.0" fill="#d2d2d2"/>
<rect x="164.4" y="76.4" width="12.9" height="13.0" fill="#b1b1b1"/>
<rect x="177.0" y="76.4" width="12.9" height="13.0" fill="#9c9c9c"/>
<rect x="189.7" y="76.4" width="21.9" height="13.0" fill="#a3a3a3"/>
<rect x="-9.0" y="89.1" width="21.9" height="13.0" fill="#aaaaaa"/>
<rect x="12.6" y="89.1" width="12.9" height="13.0" fill="#b1b1b1"/>
<rect x="25.3" y="89.1" width="12.9" height="13.0" fill="#b7b7b7"/>
<rect x="37.9" y="89.1" width="12.9" height="13.0" fill="#aaaaaa"/>
<rect x="50.6" y="89.1" width="12.9" height="13.0" fill="#818181"/>
<rect x="63.2" y="89.1" width="12.9" height="13.0" fill="#888888"/>
<rect x="75.9" y="89.1" width="12.9" height="13.0" fill="#818181"/>
<rect x="88.5" y="89.1" width="12.9" height="13.0" fill="#747474"/>
<rect x="101.2" y="89.1" width="12.9" height="13.0" fill="#666666"/>
<rect x="113.8" y="89.1" width="12.9" height="13.0" fill="#aaaaaa"/>
<rect x="126.4" y="89.1" width="12.9" height="13.0" fill="#8f8f8f"/>
<rect x="139.1" y="89.1" width="12.9" height="13.0" fill="#888888"/>
<rect x="151.7" y="89.1" width="12.9" height="13.0" fill="#b1b1b1"/>
<rect x="164.4" y="89.1" width="12.9" height="13.0" fill="#aaaaaa"/>
<rect x="177.0" y="89.1" width="12.9" height="13.0" fill="#8f8f8f"/>
<rect x="189.7" y="89.1" width="21.9" height="13.0" fill="#818181"/>
<rect x="-9.0" y="101.9" width="21.9" height="13.0" fill="#b1b1b1"/>
<rect x="12.6" y="101.9" width="12.9" height="13.0" fill="#a3a3a3"/>
<rect x="25.3" y="101.9" width="12.9" height="13.0" fill="#aaaaaa"/>
<rect x="37.9" y="101.9" width="12.9" height="13.0" fill="#b1b1b1"/>
<rect x="50.6" y="101.9" width="12.9" height="13.0" fill="#818181"/>
<rect x="63.2" y="101.9" width="12.9" height="13.0" fill="#818181"/>
<rect x="75.9" y="101.9" width="12.9" height="13.0" fill="#7b7b7b"/>
<rect x="88.5" y="101.9" width="12.9" height="13.0" fill="#747474"/>
<rect x="101.2" y="101.9" width="12.9" height="13.0" fill="#a3a3a3"/>
<rect x="113.8" y="101.9" width="12.9" height="13.0" fill="#b7b7b7"/>
<rect x="126.4" y="101.9" width="12.9" height="13.0" fill="#818181"/>
<rect x="139.1" y="101.9" width="12.9" height="13.0" fill="#818181"/>
<rect x="151.7" y="101.9" width="12.9" height="13.0" fill="#8f8f8f"/>
<rect x="164.4" y="101.9" width="12.9" height="13.0" fill="#969696"/>
<rect x="177.0" y="101.9" width="12.9" height="13.0" fill="#8f8f8f"/>
<rect x="189.7" y="101.9" width="21.9" height="13.0" fill="#888888"/>
<rect x="-9.0" y="114.6" width="21.9" height="13.0" fill="#9c9c9c"/>
<rect x="12.6" y="114.6" width="12.9" height="13.0" fill="#aaaaaa"/>
<rect x="25.3" y="114.6" width="12.9" height="13.0" fill="#a3a3a3"/>
<rect x="37.9" y="114.6" width="12.9" height="13.0" fill="#aaaaaa"/>
<rect x="50.6" y="114.6" width="12.9" height="13.0" fill="#888888"/>
<rect x="63.2" y="114.6" width="12.9" height="13.0" fill="#7b7b7b"/>
<rect x="75.9" y="114.6" width="12.9" height="13.0" fill="#818181"/>
<rect x="88.5" y="114.6" width="12.9" height="13.0" fill="#7b7b7b"/>
<rect x="101.2" y="114.6" width="12.9" height="13.0" fill="#bebebe"/>
<rect x="113.8" y="114.6" width="12.9" height="13.0" fill="#9c9c9c"/>
<rect x="126.4" y="114.6" width="12.9" height="13.0" fill="#818181"/>
<rect x="139.1" y="114.6" width="12.9" height="13.0" fill="#818181"/>
<rect x="151.7" y="114.6" width="12.9" height="13.0" fill="#747474"/>
<rect x="164.4" y="114.6" width="12.9" height="13.0" fill="#747474"/>
<rect x="177.0" y="114.6" width="12.9" height="13.0" fill="#9c9c9c"/>
<rect x="189.7" y="114.6" width="21.9" height="13.0" fill="#c5c5c5"/>
<rect x="-9.0" y="127.3" width="21.9" height="13.0" fill="#b1b1b1"/>
<rect x="12.6" y="127.3" width="12.9" height="13.0" fill="#a3a3a3"/>
<rect x="25.3" y="127.3" width="12.9" height="13.0" fill="#8f8f8f"/>
<rect x="37.9" y="127.3" width="12.9" height="13.0" fill="#b1b1b1"/>
<rect x="50.6" y="127.3" width="12.9" height="13.0" fill="#969696"/>
<rect x="63.2" y="127.3" width="12.9" height="13.0" fill="#8f8f8f"/>
<rect x="75.9" y="127.3" width="12.9" height="13.0" fill="#818181"/>
<rect x="88.5" y="127.3" width="12.9" height="13.0" fill="#818181"/>
<rect x="101.2" y="127.3" width="12.9" height="13.0" fill="#b7b7b7"/>
<rect x="113.8" y="127.3" width="12.9" height="13.0" fill="#b1b1b1"/>
<rect x="126.4" y="127.3" width="12.9" height="13.0" fill="#8f8f8f"/>
<rect x="139.1" y="127.3" width="12.9" height="13.0" fill="#888888"/>
<rect x="151.7" y="127.3" width="12.9" height="13.0" fill="#818181"/>
<rect x="164.4" y="127.3" width="12.9" height="13.0" fill="#6d6d6d"/>
<rect x="177.0" y="127.3" width="12.9" height="13.0" fill="#818181"/>
<rect x="189.7" y="127.3" width="21.9" height="13.0" fill="#cccccc"/>
<rect x="-9.0" y="140.1" width="21.9" height="22.0" fill="#cccccc"/>
<rect x="12.6" y="140.1" width="12.9" height="22.0" fill="#aaaaaa"/>
<rect x="25.3" y="140.1" width="12.9" height="22.0" fill="#bebebe"/>
<rect x="37.9" y="140.1" width="12.9" height="22.0" fill="#aaaaaa"/>
<rect x="50.6" y="140.1" width="12.9" height="22.0" fill="#a3a3a3"/>
<rect x="63.2" y="140.1" width="12.9" height="22.0" fill="#8f8f8f"/>
<rect x="75.9" y="140.1" width="12.9" height="22.0" fill="#8f8f8f"/>
<rect x="88.5" y="140.1" width="12.9" height="22.0" fill="#969696"/>
<rect x="101.2" y="140.1" width="12.9" height="22.0" fill="#969696"/>
<rect x="113.8" y="140.1" width="12.9" height="22.0" fill="#aaaaaa"/>
<rect x="126.4" y="140.1" width="12.9" height="22.0" fill="#9c9c9c"/>
<rect x="139.1" y="140.1" width="12.9" height="22.0" fill="#9c9c9c"/>
<rect x="151.7" y="140.1" width="12.9" height="22.0" fill="#9c9c9c"/>
<rect x="164.4" y="140.1" width="12.9" height="22.0" fill="#9c9c9c"/>
<rect x="177.0" y="140.1" width="12.9" height="22.0" fill="#b1b1b1"/>
<rect x="189.7" y="140.1" width="21.9" height="22.0" fill="#b7b7b7"/>
</g>
<ellipse cx="7" cy="6" rx="3.5" ry="4" fill="#969696" filter="url(#b15)" opacity="0.95"/>
<ellipse cx="20" cy="16" rx="4" ry="8" fill="#e8e8e8" filter="url(#b15)" opacity="0.95"/>
<ellipse cx="29" cy="18" rx="6" ry="7" fill="#a5a5a5" filter="url(#b15)" opacity="0.95"/>
<polygon points="45.0,7.0 52.0,7.0 52.0,41.0 46.0,40.0" fill="#dedede" filter="url(#b15)" opacity="0.95"/>
<polygon points="36.0,4.0 44.0,4.0 44.0,30.0 38.0,28.0" fill="#c8c8c8" filter="url(#b15)" opacity="0.95"/>
<ellipse cx="6" cy="24" rx="6" ry="5" fill="#e1e1e1" filter="url(#b15)" opacity="0.95"/>
<ellipse cx="14" cy="38" rx="12" ry="4" fill="#969696" filter="url(#b2)" opacity="0.95"/>
<ellipse cx="25" cy="44" rx="8" ry="7" fill="#969696" filter="url(#b2)" opacity="0.95"/>
<ellipse cx="9" cy="60" rx="7" ry="8" fill="#cdcdcd" filter="url(#b2)" opacity="0.95"/>
<ellipse cx="32" cy="64" rx="10" ry="8" fill="#d7d7d7" filter="url(#b2)" opacity="0.95"/>
<ellipse cx="30" cy="74" rx="14" ry="3" fill="#e1e1e1" filter="url(#b15)" opacity="0.95"/>
<ellipse cx="58" cy="60" rx="10" ry="14" fill="#787878" filter="url(#b2)" opacity="0.95"/>
<polygon points="52.0,20.0 70.0,18.0 75.0,30.0 72.0,42.0 56.0,44.0 50.0,34.0" fill="#c8c8c8" filter="url(#b15)" opacity="0.95"/>
<ellipse cx="88" cy="25" rx="6" ry="8" fill="#bebebe" filter="url(#b15)" opacity="0.95"/>
<ellipse cx="96" cy="13" rx="4" ry="4" fill="#b4b4b4" filter="url(#b15)" opacity="0.95"/>
<ellipse cx="116" cy="17" rx="9" ry="8" fill="#6c6c6c" filter="url(#b2)" opacity="0.95"/>
<ellipse cx="130" cy="28" rx="8" ry="10" fill="#d7d7d7" filter="url(#b15)" opacity="0.95"/>
<ellipse cx="160" cy="6" rx="7" ry="5" fill="#cdcdcd" filter="url(#b15)" opacity="0.95"/>
<ellipse cx="190" cy="12" rx="12" ry="9" fill="#c8c8c8" filter="url(#b2)" opacity="0.95"/>
<ellipse cx="172" cy="34" rx="14" ry="9" fill="#626262" filter="url(#b2)" opacity="0.95"/>
<ellipse cx="190" cy="38" rx="10" ry="8" fill="#6e6e6e" filter="url(#b2)" opacity="0.95"/>
<ellipse cx="146" cy="44" rx="9" ry="12" fill="#d2d2d2" filter="url(#b15)" opacity="0.95"/>
<ellipse cx="152" cy="60" rx="14" ry="8" fill="#d6d6d6" filter="url(#b15)" opacity="0.95"/>
<ellipse cx="180" cy="52" rx="18" ry="5" fill="#787878" filter="url(#b2)" opacity="0.95"/>
<ellipse cx="7" cy="96" rx="5" ry="4" fill="#dedede" filter="url(#b15)" opacity="0.95"/>
<ellipse cx="36" cy="81" rx="9" ry="6" fill="#cdcdcd" filter="url(#b15)" opacity="0.95"/>
<ellipse cx="40" cy="111" rx="13" ry="10" fill="#c8c8c8" filter="url(#b2)" opacity="0.95"/>
<ellipse cx="12" cy="124" rx="10" ry="7" fill="#a0a0a0" filter="url(#b2)" opacity="0.95"/>
<ellipse cx="12" cy="143" rx="12" ry="9" fill="#d7d7d7" filter="url(#b2)" opacity="0.95"/>
<ellipse cx="29" cy="144" rx="5" ry="8" fill="#7d7d7d" filter="url(#b15)" opacity="0.95"/>
<ellipse cx="46" cy="142" rx="9" ry="9" fill="#cdcdcd" filter="url(#b2)" opacity="0.95"/>
<ellipse cx="62" cy="143" rx="5" ry="9" fill="#c4c4c4" filter="url(#b2)" opacity="0.95"/>
<ellipse cx="76" cy="102" rx="6" ry="14" fill="#afafaf" filter="url(#b2)" opacity="0.95"/>
<ellipse cx="111" cy="92" rx="8" ry="12" fill="#737373" filter="url(#b2)" opacity="0.95"/>
<ellipse cx="127" cy="84" rx="7" ry="7" fill="#c3c3c3" filter="url(#b15)" opacity="0.95"/>
<ellipse cx="72" cy="143" rx="5" ry="9" fill="#d0d0d0" filter="url(#b15)" opacity="0.95"/>
<ellipse cx="160" cy="123" rx="5" ry="7" fill="#696969" filter="url(#b15)" opacity="0.95"/>
<polygon points="187.5,116.5 203.0,116.0 203.0,139.0 189.0,139.0" fill="#cdcdcd" filter="url(#b15)" opacity="0.95"/>
<polygon points="170.0,118.0 182.0,120.0 192.0,140.0 190.0,146.0 176.0,142.0" fill="#787878" filter="url(#b15)" opacity="0.95"/>
<ellipse cx="192" cy="147" rx="10" ry="5" fill="#d2d2d2" filter="url(#b15)" opacity="0.95"/>
<path d="M-2,36 C6,34 14,32 20,28 C27,22 33,14 38,0" fill="none" stroke="#ededed" stroke-width="2.6" filter="url(#b1)"/>
<path d="M-2,41 C8,38 16,36 24,32 C30,28 34,26 38,30 C42,34 43,40 44,48" fill="none" stroke="#8c8c8c" stroke-width="3" filter="url(#b1)"/>
<path d="M2,46 C10,43 20,43 30,48 C36,52 39,58 41,66" fill="none" stroke="#f2f2f2" stroke-width="2.4" filter="url(#b1)"/>
<path d="M44,48 C44,70 45,100 44,125 C44,135 46,145 46,153" fill="none" stroke="#909090" stroke-width="5" filter="url(#b2)" opacity="0.7"/>
<path d="M4,82 C12,78 22,80 32,88" fill="none" stroke="#e6e6e6" stroke-width="2" filter="url(#b1)"/>
<path d="M2,128 C10,124 22,126 34,132" fill="none" stroke="#e8e8e8" stroke-width="2" filter="url(#b1)"/>
<path d="M18,2 C22,10 24,18 22,26" fill="none" stroke="#f0f0f0" stroke-width="2" filter="url(#b1)"/>
<path d="M46,0 C50,12 52,26 50,40" fill="none" stroke="#eeeeee" stroke-width="2" filter="url(#b1)"/>
<path d="M138,70 C146,66 158,64 170,70" fill="none" stroke="#f0f0f0" stroke-width="2" filter="url(#b1)"/>
<path d="M108,104 C112,100 118,99 124,102" fill="none" stroke="#f0f0f0" stroke-width="1.8" filter="url(#b1)"/>
<polygon points="109.7,104.0 119.5,99.7 125.1,104.0 127.9,115.0 129.3,134.7 132.0,141.6 123.7,144.4 113.9,140.2 106.9,134.7 106.9,117.9" fill="#d4d4d4" filter="url(#b1)"/>
<ellipse cx="123.5" cy="122.5" rx="5.5" ry="7.5" fill="#a5a5a5" filter="url(#b1)"/>
<ellipse cx="124" cy="138" rx="5" ry="4" fill="#c3c3c3" filter="url(#b1)"/>
<polygon points="134.0,74.0 146.0,68.0 162.0,66.0 172.0,72.0 174.0,90.0 168.0,102.0 146.0,104.0 136.0,92.0" fill="#d2d2d2" filter="url(#b1)"/>
<ellipse cx="164" cy="90" rx="6" ry="5" fill="#a0a0a0" filter="url(#b1)"/>

</g>

<path d="M70.6,12.4 L99.5,7.6" fill="none" stroke="#c8c8c8" stroke-width="0.8" filter="url(#b05)"/>
<path d="M74.7,23.4 L109,29.6 L132.5,33.7 L135.8,31.7 L156.4,19.3 L181.2,1.4" fill="none" stroke="#dcdcdc" stroke-width="1" filter="url(#b05)" opacity="0.8"/>
</g></g>
<rect x="472.2" y="508.8" width="202.3" height="8.999999999999943" fill="#000"/>
<text x="480.6" y="515.9" font-size="6.2" textLength="10.5" lengthAdjust="spacingAndGlyphs" style="fill:#e0e0e0;font-weight:normal;stroke:none">NTU</text>
<text x="544.2" y="515.9" font-size="6.2" textLength="5.8" lengthAdjust="spacingAndGlyphs" style="fill:#e0e0e0;font-weight:normal;stroke:none">SEI</text>
<text x="563.8" y="515.9" font-size="6.2" textLength="16" lengthAdjust="spacingAndGlyphs" style="fill:#e0e0e0;font-weight:normal;stroke:none">10.0kV</text>
<text x="586.8" y="515.9" font-size="6.2" textLength="16" lengthAdjust="spacingAndGlyphs" style="fill:#e0e0e0;font-weight:normal;stroke:none">X5,000</text>
<text x="613.9" y="515.9" font-size="6.2" textLength="9" lengthAdjust="spacingAndGlyphs" style="fill:#e0e0e0;font-weight:normal;stroke:none">1μm</text>
<text x="634.8" y="515.9" font-size="6.2" textLength="26.7" lengthAdjust="spacingAndGlyphs" style="fill:#e0e0e0;font-weight:normal;stroke:none">WD 8.9mm</text>
<rect x="621.4" y="509.2" width="8.5" height="0.9" fill="#ddd"/>
<text x="153.75" y="548.3" font-size="24" text-anchor="middle">Pure LDPE</text>
<text x="363.60" y="548.3" font-size="24" text-anchor="middle">LDPE-5T</text>
<text x="573.35" y="548.3" font-size="24" text-anchor="middle">LDPE-5T-K</text>
</svg>
</body></html>
